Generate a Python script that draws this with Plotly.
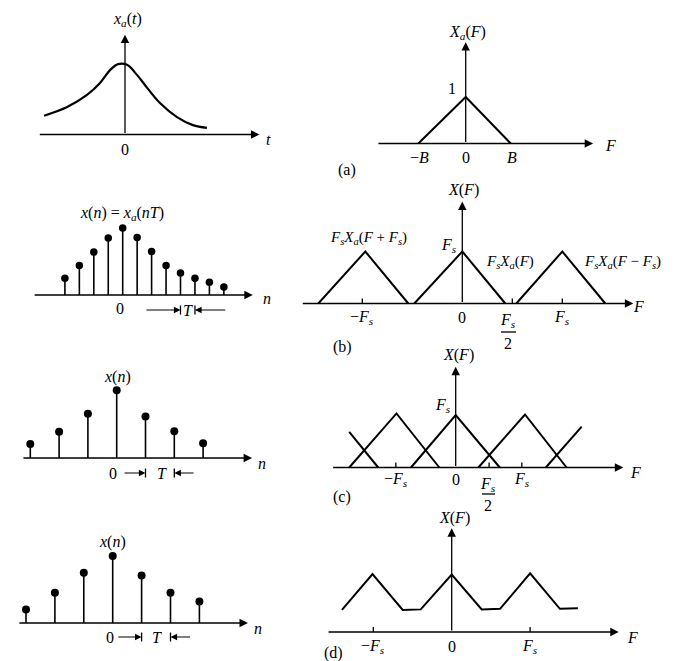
import plotly.graph_objects as go

W, H = 685, 661
FONT = "Liberation Serif, Times New Roman, serif"

# ---------------- data ----------------
# (top-left) continuous signal x_a(t), t in units of T
t_curve = [-5.6, -4.0, -2.63, -1.73, -1.04, -0.48, 0.14, 0.83, 1.52, 2.42, 3.6, 4.7, 5.67]
xa_curve = [0.28, 0.41, 0.59, 0.77, 0.96, 1.05, 1.04, 0.89, 0.70, 0.47, 0.26, 0.14, 0.10]

# (a) spectrum X_a(F), F in units of B
Fa = [-1.03, 0.0, 0.98]
Xa = [0.0, 1.0, 0.0]
a_tick_pos = [-1.0, 0.0, 1.0]
a_tick_lab = ["−<i>B</i>", "0", "<i>B</i>"]

# (b) samples x(n) = x_a(nT)
n_b = [-4, -3, -2, -1, 0, 1, 2, 3, 4, 5, 6, 7]
x_b = [0.25, 0.44, 0.64, 0.85, 1.0, 0.86, 0.65, 0.44, 0.33, 0.25, 0.19, 0.12]
# (b) spectrum, F in units of Fs
Fb_left = [-1.44, -0.97, -0.54]
Fb_mid = [-0.48, 0.0, 0.43]
Fb_right = [0.54, 1.0, 1.43]
Xb_tri = [0.0, 1.0, 0.0]
b_ticks = [-1.0, 0.5, 1.0]
b_tick_pos = [-1.0, 0.0, 1.0]
b_tick_lab = ["−<i>F<sub>s</sub></i>", "0", "<i>F<sub>s</sub></i>"]

# (c) samples
n_c = [-3, -2, -1, 0, 1, 2, 3]
x_c = [0.21, 0.39, 0.66, 1.01, 0.62, 0.40, 0.22]
# (c) overlapping spectra
Fc_tri1 = [-1.69, -0.94, -0.26]
Xc_tri1 = [0.0, 1.02, 0.0]
Fc_tri2 = [-0.71, 0.0, 0.70]
Xc_tri2 = [0.0, 0.99, 0.0]
Fc_tri3 = [0.36, 1.10, 1.76]
Xc_tri3 = [0.0, 1.0, 0.0]
Fc_partL = [-1.69, -1.23]
Xc_partL = [0.67, 0.0]
Fc_partR = [1.43, 2.0]
Xc_partR = [0.0, 0.77]
c_ticks = [-0.95, 0.53, 1.05]
c_tick_pos = [-0.95, 0.0, 1.05]
c_tick_lab = ["−<i>F<sub>s</sub></i>", "0", "<i>F<sub>s</sub></i>"]

# (d) samples
n_d = [-3, -2, -1, 0, 1, 2, 3]
x_d = [0.20, 0.45, 0.75, 1.0, 0.71, 0.45, 0.32]
# (d) aliased spectrum
Fd = [-1.40, -1.01, -0.625, -0.395, 0.0, 0.383, 0.617, 1.0, 1.38, 1.61]
Xd = [0.38, 1.0, 0.38, 0.39, 0.99, 0.39, 0.40, 1.01, 0.40, 0.41]
d_ticks = [-1.0, 1.0]
d_tick_pos = [-1.0, 0.0, 1.0]
d_tick_lab = ["−<i>F<sub>s</sub></i>", "0", "<i>F<sub>s</sub></i>"]

# ---------------- panel geometry: origin (px) and px per unit ----------------
panels = {
    1: (125.0, 134.5, 14.45, 67.0),
    2: (465.7, 143.5, 46.0, 46.5),
    3: (122.7, 295.0, 14.45, 67.0),
    4: (462.3, 303.5, 100.0, 52.0),
    5: (116.7, 458.0, 28.8, 67.0),
    6: (455.7, 467.5, 63.0, 53.0),
    7: (112.7, 623.0, 28.9, 67.0),
    8: (451.7, 632.0, 78.4, 58.0),
}

fig = go.Figure()
layout = dict(width=W, height=H, autosize=False, margin=dict(l=0, r=0, t=0, b=0),
              paper_bgcolor="white", plot_bgcolor="rgba(0,0,0,0)", showlegend=False,
              font=dict(family=FONT, size=16, color="black"))


def refs(i):
    return ("x" if i == 1 else f"x{i}", "y" if i == 1 else f"y{i}")


for i, (ox, oy, sx, sy) in panels.items():
    xk = "xaxis" if i == 1 else f"xaxis{i}"
    yk = "yaxis" if i == 1 else f"yaxis{i}"
    xr, yr = refs(i)
    layout[xk] = dict(domain=[0, 1], range=[-ox / sx, (W - ox) / sx], visible=False,
                      fixedrange=True, anchor=yr)
    layout[yk] = dict(domain=[0, 1], range=[-(H - oy) / sy, oy / sy], visible=False,
                      fixedrange=True, anchor=xr)

annotations = []
shapes = []


def line(i, xs, ys, width=2.0, shape="linear"):
    xr, yr = refs(i)
    fig.add_trace(go.Scatter(x=xs, y=ys, mode="lines", xaxis=xr, yaxis=yr,
                             line=dict(color="black", width=width, shape=shape, smoothing=1.0),
                             hoverinfo="skip", showlegend=False))


def arrow(i, x0, y0, x1, y1, width=1.3, size=1.3, head=2):
    xr, yr = refs(i)
    annotations.append(dict(x=x1, y=y1, ax=x0, ay=y0, xref=xr, yref=yr, axref=xr, ayref=yr,
                            text="", showarrow=True, arrowhead=head, arrowsize=size,
                            arrowwidth=width, arrowcolor="black", standoff=0, startstandoff=0))


def stems(i, n, v, msize=8):
    xr, yr = refs(i)
    xs, ys = [], []
    for a, b in zip(n, v):
        xs += [a, a, None]
        ys += [0, b, None]
    fig.add_trace(go.Scatter(x=xs, y=ys, mode="lines", xaxis=xr, yaxis=yr,
                             line=dict(color="black", width=1.6), hoverinfo="skip"))
    fig.add_trace(go.Scatter(x=n, y=v, mode="markers", xaxis=xr, yaxis=yr,
                             marker=dict(color="black", size=msize), hoverinfo="skip"))


def tickmarks(i, pos, hpx=5):
    sy = panels[i][3]
    xs, ys = [], []
    for p in pos:
        xs += [p, p, None]
        ys += [0, hpx / sy, None]
    line(i, xs, ys, width=1.3)


def dtext(i, x, y, text, yshift=0, xshift=0, size=16):
    xr, yr = refs(i)
    annotations.append(dict(x=x, y=y, xref=xr, yref=yr, text=text, showarrow=False,
                            xshift=xshift, yshift=yshift, xanchor="center", yanchor="middle",
                            font=dict(family=FONT, size=size, color="black")))


def ptext(xpx, ypx, text, size=16):
    annotations.append(dict(x=xpx / W, y=1 - ypx / H, xref="paper", yref="paper", text=text,
                            showarrow=False, xanchor="center", yanchor="middle",
                            font=dict(family=FONT, size=size, color="black")))


def frac_bar(x0px, x1px, ypx):
    shapes.append(dict(type="line", xref="paper", yref="paper", x0=x0px / W, x1=x1px / W,
                       y0=1 - ypx / H, y1=1 - ypx / H, line=dict(color="black", width=1.3)))


def t_marker(i, x_from_r, x_bar1, x_bar2, x_from_l, ypx, t_x):
    sy = panels[i][3]
    y = -ypx / sy
    arrow(i, x_from_r, y, x_bar1, y, width=1.1, size=1.2)
    arrow(i, x_from_l, y, x_bar2, y, width=1.1, size=1.2)
    line(i, [x_bar1, x_bar1, None, x_bar2, x_bar2], [y - 4.5 / sy, y + 4.5 / sy, None,
                                                    y - 4.5 / sy, y + 4.5 / sy], width=1.3)
    dtext(i, t_x, y, "<i>T</i>")


# ---- panel 1: x_a(t)
arrow(1, -6.0, 0, 9.3, 0)
arrow(1, 0, 0, 0, 1.49)
line(1, t_curve, xa_curve, width=2.2, shape="spline")
dtext(1, 0, 0, "0", yshift=-15)
ptext(268, 139, "<i>t</i>")
ptext(128, 20, "<i>x<sub>a</sub></i>(<i>t</i>)")

# ---- panel 2: X_a(F)
arrow(2, -1.93, 0, 2.77, 0)
arrow(2, 0, 0, 0, 2.18)
line(2, Fa, Xa)
for p, l in zip(a_tick_pos, a_tick_lab):
    dtext(2, p, 0, l, yshift=-14)
ptext(452, 89, "1")
ptext(467, 32, "<i>X<sub>a</sub></i>(<i>F</i>)")
ptext(610, 146, "<i>F</i>")
ptext(347, 170, "(a)")

# ---- panel 3: x(n) = x_a(nT)
arrow(3, -6.2, 0, 9.0, 0)
stems(3, n_b, x_b, msize=7.5)
dtext(3, 0, 0, "0", yshift=-13, xshift=-3)
t_marker(3, 1.54, 4, 5, 7.2, 15, 4.5)
ptext(267, 298, "<i>n</i>")
ptext(122, 213, "<i>x</i>(<i>n</i>) = <i>x<sub>a</sub></i>(<i>nT</i>)")

# ---- panel 4: X(F), no aliasing
arrow(4, -1.61, 0, 1.71, 0)
arrow(4, 0, 0, 0, 1.96)
line(4, Fb_left, Xb_tri)
line(4, Fb_mid, Xb_tri)
line(4, Fb_right, Xb_tri)
tickmarks(4, b_ticks)
for p, l in zip(b_tick_pos, b_tick_lab):
    dtext(4, p, 0, l, yshift=-14)
ptext(508, 320, "<i>F<sub>s</sub></i>")
frac_bar(501, 516, 332)
ptext(508, 343, "2")
ptext(463, 190, "<i>X</i>(<i>F</i>)")
ptext(368, 238, "<i>F<sub>s</sub>X<sub>a</sub></i>(<i>F</i> + <i>F<sub>s</sub></i>)", size=15)
ptext(449, 245, "<i>F<sub>s</sub></i>")
ptext(510, 262, "<i>F<sub>s</sub>X<sub>a</sub></i>(<i>F</i>)", size=15)
ptext(622, 262, "<i>F<sub>s</sub>X<sub>a</sub></i>(<i>F</i> − <i>F<sub>s</sub></i>)", size=15)
ptext(638, 306, "<i>F</i>")
ptext(342, 347, "(b)")

# ---- panel 5: x(n), larger T
arrow(5, -3.29, 0, 4.7, 0)
stems(5, n_c, x_c)
dtext(5, 0, 0, "0", yshift=-15, xshift=-4)
t_marker(5, 0.22, 1, 2, 2.72, 15, 1.57)
ptext(262, 463, "<i>n</i>")
ptext(117, 377, "<i>x</i>(<i>n</i>)")

# ---- panel 6: X(F), overlapping
arrow(6, -1.97, 0, 2.66, 0)
arrow(6, 0, 0, 0, 1.9)
line(6, Fc_tri1, Xc_tri1)
line(6, Fc_tri2, Xc_tri2)
line(6, Fc_tri3, Xc_tri3)
line(6, Fc_partL, Xc_partL)
line(6, Fc_partR, Xc_partR)
tickmarks(6, c_ticks)
for p, l in zip(c_tick_pos, c_tick_lab):
    dtext(6, p, 0, l, yshift=-12)
ptext(488, 484, "<i>F<sub>s</sub></i>")
frac_bar(482, 495, 494)
ptext(488, 505, "2")
ptext(458, 355, "<i>X</i>(<i>F</i>)")
ptext(443, 405, "<i>F<sub>s</sub></i>")
ptext(635, 472, "<i>F</i>")
ptext(342, 497, "(c)")

# ---- panel 7: x(n)
arrow(7, -3.28, 0, 4.68, 0)
stems(7, n_d, x_d)
dtext(7, 0, 0, "0", yshift=-14, xshift=-3)
t_marker(7, 0.14, 1, 2, 2.73, 14, 1.53)
ptext(258, 628, "<i>n</i>")
ptext(113, 542, "<i>x</i>(<i>n</i>)")

# ---- panel 8: X(F), aliased sum
arrow(8, -1.59, 0, 2.13, 0)
arrow(8, 0, 0, 0, 1.79)
line(8, Fd, Xd)
tickmarks(8, d_ticks)
for p, l in zip(d_tick_pos, d_tick_lab):
    dtext(8, p, 0, l, yshift=-14)
ptext(454, 518, "<i>X</i>(<i>F</i>)")
ptext(632, 637, "<i>F</i>")
ptext(333, 653, "(d)")

layout["annotations"] = annotations
layout["shapes"] = shapes
fig.update_layout(**layout)
fig.update_traces(showlegend=False)
fig.write_html("out.html", config={"displayModeBar": False},
               post_script="document.body.style.margin='0';document.body.style.padding='0';")
